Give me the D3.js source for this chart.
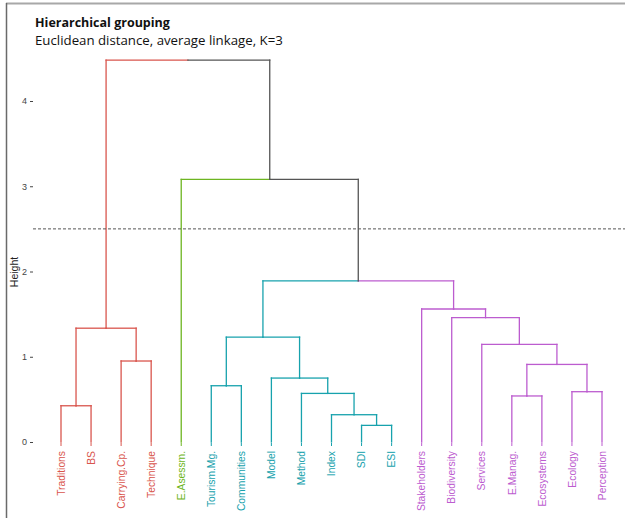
<!DOCTYPE html>
<html>
<head>
<meta charset="utf-8">
<script src="https://cdn.jsdelivr.net/npm/d3@7"></script>
<style>
  html, body { margin: 0; padding: 0; background: #fff; }
  svg { display: block; }
</style>
</head>
<body>
<svg id="chart" width="625" height="518"></svg>
<script>
// Leaves in drawing order
const labels = ["Traditions", "BS", "Carrying.Cp.", "Technique", "E.Asessm.",
  "Tourism.Mg.", "Communities", "Model", "Method", "Index", "SDI", "ESI",
  "Stakeholders", "Biodiversity", "Services", "E.Manag.", "Ecosystems", "Ecology", "Perception"];
// Group of each leaf
const groups = [1, 1, 1, 1, 2, 3, 3, 3, 3, 3, 3, 3, 4, 4, 4, 4, 4, 4, 4];
const groupColors = ["#D9554D", "#6DB521", "#17A2AD", "#BC5CCF"];
const mixedColor = "#555555";

// Merge table, hclust style: negative = leaf (1-based), positive = earlier merge (1-based)
const mergeLeft  = [-11, -10, -1, -16, -9, -18, -6, -8, 4, -3, -15, 7, 3, -14, -13, 12, -5, 13];
const mergeRight = [-12,   1, -2, -17,  2, -19, -7,  5, 6, -4,   9, 8, 10, 11, 14, 15, 16, 17];
const mergeHeight = [0.195, 0.32, 0.425, 0.54, 0.57, 0.59, 0.66, 0.75, 0.91, 0.95,
  1.145, 1.23, 1.335, 1.46, 1.56, 1.89, 3.08, 4.48];

const yTicks = [0, 1, 2, 3, 4];
const cutHeight = 2.5;

const svg = d3.select("#chart");

const x = d3.scalePoint().domain(labels).range([61, 602]);
const y = d3.scaleLinear().domain([0, 4]).range([442, 101]);

// Frame
svg.append("line").attr("x1", 6).attr("x2", 625).attr("y1", 3.5).attr("y2", 3.5)
  .attr("stroke", "#a8a8a8").attr("stroke-width", 2);
svg.append("line").attr("x1", 6.5).attr("x2", 6.5).attr("y1", 3).attr("y2", 518)
  .attr("stroke", "#6a6a6a").attr("stroke-width", 1.5);

// Titles
function fitText(sel, target) {
  const w = sel.node().getComputedTextLength();
  const fs = parseFloat(sel.attr("font-size"));
  sel.attr("font-size", (fs * target / w).toFixed(2));
}
const t1 = svg.append("text").attr("x", 35).attr("y", 27)
  .attr("font-family", "Open Sans, sans-serif").attr("font-weight", "bold")
  .attr("font-size", 14).attr("fill", "#111").text("Hierarchical grouping");
fitText(t1, 135);
const t2 = svg.append("text").attr("x", 35).attr("y", 44.5)
  .attr("font-family", "Open Sans, sans-serif")
  .attr("font-size", 14).attr("fill", "#111").text("Euclidean distance, average linkage, K=3");
fitText(t2, 248);

// Build nodes
function leafNode(i) { return { x: x(labels[i]), h: 0, group: groups[i] }; }
const merges = [];
function getNode(id) { return id < 0 ? leafNode(-id - 1) : merges[id - 1]; }
mergeHeight.forEach((h, k) => {
  const a = getNode(mergeLeft[k]), b = getNode(mergeRight[k]);
  merges.push({
    x: (a.x + b.x) / 2, h: h,
    group: (a.group !== null && a.group === b.group) ? a.group : null,
    children: [a, b]
  });
});
const colorOf = n => n.group === null ? mixedColor : groupColors[n.group - 1];

// Segments: each child gets a vertical up to parent height and a horizontal to parent x
const segs = [];
merges.forEach(p => {
  p.children.forEach(c => {
    segs.push({ x1: c.x, y1: y(c.h), x2: c.x, y2: y(p.h), color: colorOf(c) });
    segs.push({ x1: c.x, y1: y(p.h), x2: p.x, y2: y(p.h), color: colorOf(c) });
  });
});
svg.append("g").selectAll("line").data(segs).join("line")
  .attr("x1", d => d.x1).attr("y1", d => d.y1)
  .attr("x2", d => d.x2).attr("y2", d => d.y2)
  .attr("stroke", d => d.color).attr("stroke-width", 1.3)
  .attr("stroke-linecap", "square");

// Cut line
svg.append("line").attr("x1", 33).attr("x2", 625)
  .attr("y1", y(cutHeight)).attr("y2", y(cutHeight))
  .attr("stroke", "#555").attr("stroke-width", 1).attr("stroke-dasharray", "3,2");

// Y axis
const yAxis = d3.axisLeft(y).tickValues(yTicks).tickFormat(d3.format("d"))
  .tickSize(3).tickPadding(3);
const gy = svg.append("g").attr("transform", "translate(33,0)").call(yAxis);
gy.select(".domain").remove();
gy.selectAll(".tick line").attr("stroke", "#444");
gy.selectAll(".tick text").attr("font-family", "Liberation Sans, Arial, sans-serif")
  .attr("font-size", 9).attr("fill", "#444");

svg.append("text").attr("transform", "translate(18,272) rotate(-90)")
  .attr("text-anchor", "middle").attr("font-family", "Liberation Sans, Arial, sans-serif")
  .attr("font-size", 10.5).attr("fill", "#222").text("Height");

// X axis: leaf ticks and rotated labels
const gx = svg.append("g");
gx.selectAll("line").data(labels).join("line")
  .attr("x1", d => x(d)).attr("x2", d => x(d))
  .attr("y1", 443).attr("y2", 446)
  .attr("stroke", (d, i) => groupColors[groups[i] - 1]).attr("stroke-width", 1);
gx.selectAll("text").data(labels).join("text")
  .attr("transform", d => `translate(${x(d) + 3.7},451) rotate(-90)`)
  .attr("text-anchor", "end")
  .attr("font-family", "Liberation Sans, Arial, sans-serif")
  .attr("font-size", 10.3)
  .attr("fill", (d, i) => groupColors[groups[i] - 1])
  .text(d => d);
</script>
</body>
</html>
